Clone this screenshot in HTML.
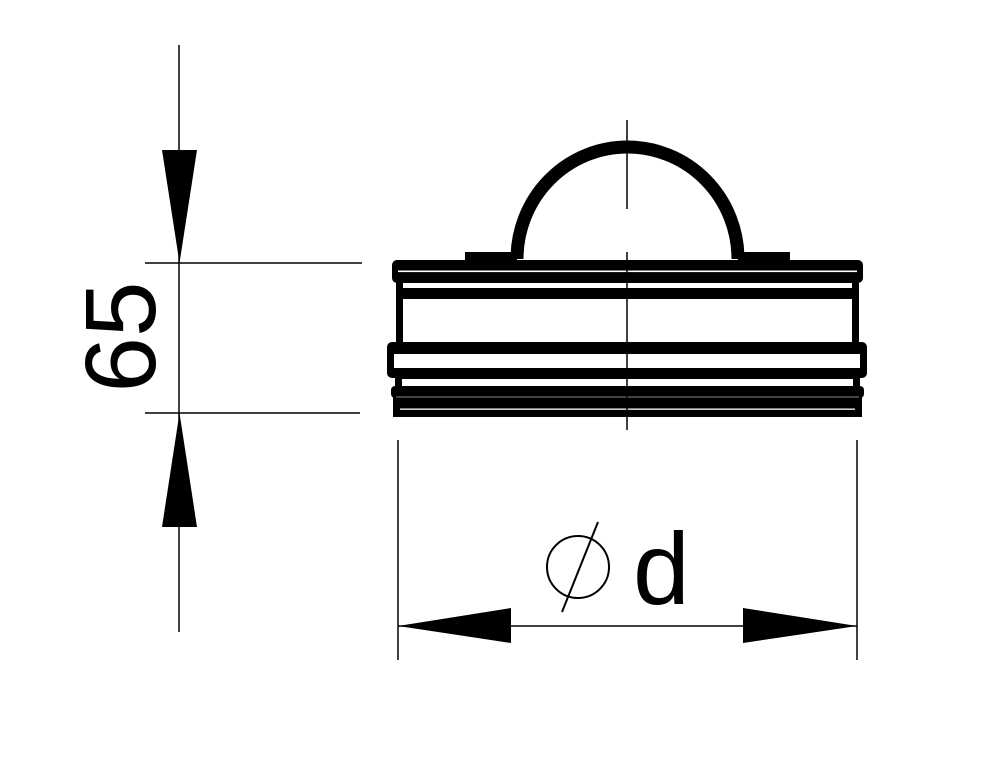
<!DOCTYPE html>
<html><head><style>html,body{margin:0;padding:0;background:#fff}</style></head>
<body>
<svg width="1000" height="772" viewBox="0 0 1000 772" xmlns="http://www.w3.org/2000/svg">
<rect width="1000" height="772" fill="#fff"/>
<!-- dome -->
<rect x="465" y="252" width="52" height="9" fill="#000"/>
<rect x="738" y="252" width="52" height="9" fill="#000"/>
<path d="M517,259 A110.5,112 0 0 1 738,259" fill="none" stroke="#000" stroke-width="13"/>
<!-- body -->
<rect x="392" y="260" width="471" height="23" rx="5" fill="#000"/>
<rect x="398" y="270.5" width="459" height="1.6" fill="#fff"/>
<rect x="396" y="283" width="463" height="16" fill="#000"/>
<rect x="403" y="283" width="449" height="5" fill="#fff"/>
<rect x="396" y="299" width="7" height="45" fill="#000"/>
<rect x="852" y="299" width="7" height="45" fill="#000"/>
<rect x="387" y="342" width="480" height="36" rx="5" fill="#000"/>
<rect x="394" y="354" width="466" height="14" fill="#fff"/>
<rect x="395" y="376" width="465" height="12" fill="#000"/>
<rect x="402" y="379" width="451" height="7" fill="#fff"/>
<rect x="391" y="386" width="473" height="12" rx="4" fill="#000"/>
<rect x="393" y="397" width="469" height="20" fill="#000"/>
<rect x="396" y="396.5" width="463" height="1" fill="#888"/>
<rect x="400" y="408.5" width="455" height="1.3" fill="#fff"/>
<!-- centerline -->
<g stroke="#000" stroke-width="1.5">
<line x1="627" y1="120" x2="627" y2="209"/>
<line x1="627" y1="252" x2="627" y2="430"/>
<!-- vertical dimension -->
<line x1="179" y1="45" x2="179" y2="632"/>
<line x1="145" y1="263" x2="362" y2="263"/>
<line x1="145" y1="413" x2="360" y2="413"/>
<!-- horizontal dimension -->
<line x1="398" y1="626" x2="857" y2="626"/>
<line x1="398" y1="440" x2="398" y2="660"/>
<line x1="857" y1="440" x2="857" y2="660"/>
</g>
<polygon points="162,150 197,150 179.5,263" fill="#000"/>
<polygon points="162,527 197,527 179.5,413" fill="#000"/>
<polygon points="398,626 511,608 511,643" fill="#000"/>
<polygon points="857,626 743,608 743,643" fill="#000"/>
<!-- labels -->
<text x="0" y="0" transform="translate(155,337) rotate(-90)" text-anchor="middle" font-family="Liberation Sans, sans-serif" font-size="100" fill="#000">65</text>
<circle cx="578" cy="567" r="31" fill="none" stroke="#000" stroke-width="2"/>
<line x1="598" y1="522" x2="562" y2="612" stroke="#000" stroke-width="2"/>
<text x="633" y="604" font-family="Liberation Sans, sans-serif" font-size="102" fill="#000">d</text>
</svg>
</body></html>
